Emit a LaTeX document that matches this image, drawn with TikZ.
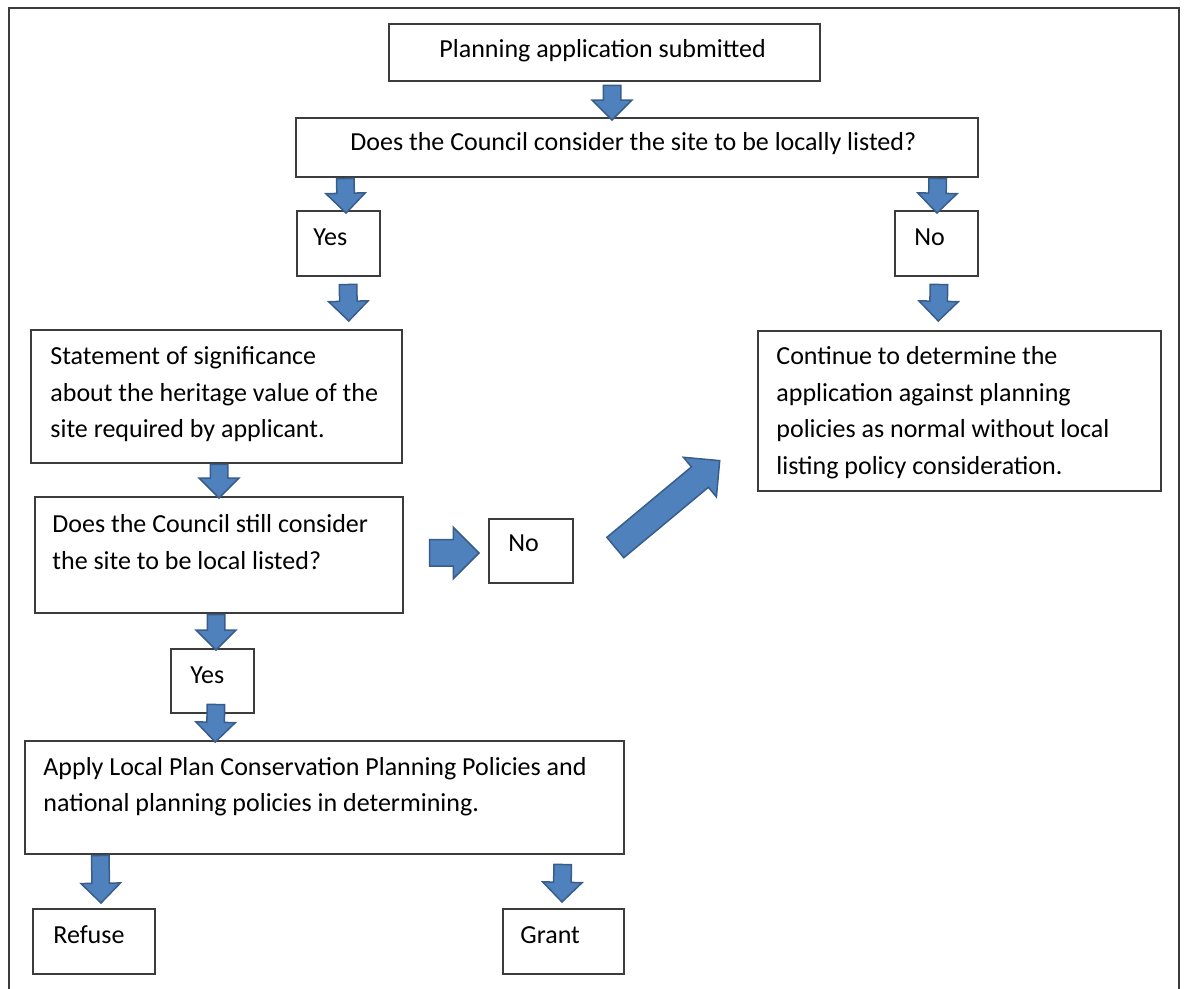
\documentclass[tikz,border=0pt]{standalone}
\usepackage{fontspec}
\setmainfont{Carlito}
\usetikzlibrary{positioning,calc,fit,shapes.arrows}
\definecolor{arrowblue}{RGB}{79,129,189}
\definecolor{arrowedge}{RGB}{56,93,138}
\definecolor{boxedge}{RGB}{60,60,60}
\tikzset{
		box/.style = 		{draw=boxedge, line width=0.75pt, inner sep=0pt},
		txt/.style = 		{anchor=base west, inner sep=0pt, font=\fontsize{13}{18.25}\selectfont},
		blockArrow/.style = {single arrow, draw=arrowedge, fill=arrowblue, line width=0.75pt,
		                     inner xsep=0pt, inner ysep=4pt, single arrow head extend=5.5pt},
		bigArrow/.style = 	{blockArrow, inner ysep=6.25pt, single arrow head extend=6.25pt},
		fat/.style = 		{to path={let \p1=(\tikztostart), \p2=(\tikztotarget),
		                     \n1={atan2(\y2-\y1,\x2-\x1)}, \n2={veclen(\x2-\x1,\y2-\y1)} in
		                     node[#1, minimum height=\n2, rotate=\n1, anchor=tail] at (\tikztostart) {}}},
		fat/.default = blockArrow
}

\begin{document}
\begin{tikzpicture}[x=0.5pt, y=-0.5pt]
  \useasboundingbox (0,0) rectangle (1184,989);
  \draw[boxedge, line width=1pt] (9,995) -- (9,8) -- (1179,8) -- (1179,995);

  % boxes
  \node [box, fit={(389,24) (820,81)}]   (plan) {};
  \node [box, fit={(296,118) (978,177)}] (council) {};
  \node [box, fit={(297,211) (380,276)}] (yesA) {};
  \node [box, fit={(895,211) (978,276)}] (noA) {};
  \node [box, fit={(31,330) (402,463)}]  (stmt) {};
  \node [box, fit={(758,331) (1161,491)}] (cont) {};
  \node [box, fit={(35,497) (403,613)}]  (still) {};
  \node [box, fit={(489,519) (573,583)}] (noB) {};
  \node [box, fit={(171,649) (254,713)}] (yesB) {};
  \node [box, fit={(25,741) (624,854)}]  (apply) {};
  \node [box, fit={(33,909) (155,974)}]  (refuse) {};
  \node [box, fit={(503,909) (624,974)}] (grant) {};

  % texts
  \node [txt] (plan-t)    at (439,58)  {Planning application submitted};
  \node [txt] (council-t) at (350,151) {Does the Council consider the site to be locally listed?};
  \node [txt] (yesA-t)    at (313,246) {Yes};
  \node [txt] (noA-t)     at (914,246) {No};
  \node [txt] (stmt-t)    at (50,365)  {\parbox[t]{300pt}{Statement of significance\\
                                        about the heritage value of the\\
                                        site required by applicant.}};
  \node [txt] (cont-t)    at (776,365) {\parbox[t]{300pt}{Continue to determine the\\
                                        application against planning\\
                                        policies as normal without local\\
                                        listing policy consideration.}};
  \node [txt] (still-t)   at (52,533)  {\parbox[t]{300pt}{Does the Council still consider\\
                                        the site to be local listed?}};
  \node [txt] (noB-t)     at (508,552) {No};
  \node [txt] (yesB-t)    at (190,683) {Yes};
  \node [txt] (apply-t)   at (43,775)  {\parbox[t]{400pt}{Apply Local Plan Conservation Planning Policies and\\
                                        national planning policies in determining.}};
  \node [txt] (refuse-t)  at (53,943)  {Refuse};
  \node [txt] (grant-t)   at (520,943) {Grant};

  % block arrows
  \path ($(plan.south)+(7.5,3)$)          to[fat] ($(council.north)+(-25,2)$);
  \path ($(council.south west)+(50,0)$)   to[fat] ($(yesA.north)+(7.5,2)$);
  \path ($(council.south east)+(-41,0)$)  to[fat] ($(noA.north)+(0.5,2)$);
  \path ($(yesA.south)+(9.5,7)$)          to[fat] ($(stmt.north east)+(-54,-9)$);
  \path ($(noA.south)+(2.5,7)$)           to[fat] ($(cont.north west)+(181,-10)$);
  \path ($(stmt.south)+(2.5,0)$)          to[fat] ($(still.north)+(0,1)$);
  \path ($(still.south)+(-3,0)$)          to[fat] ($(yesB.north)+(3.5,1)$);
  \path ($(yesB.south)+(3.5,-10)$)        to[fat] ($(apply.north west)+(191,1)$);
  \path ($(apply.south west)+(76,0)$)     to[fat] ($(refuse.north)+(7,-6)$);
  \path ($(apply.south east)+(-62,9)$)    to[fat] ($(grant.north)+(-1.5,-7)$);
  \path ($(still.east)+(25,-2)$)          to[fat=bigArrow] ($(noB.west)+(-10,2)$);
  \path ($(noB.east)+(41,-3)$)            to[fat=bigArrow] ($(cont.west)+(-38,50)$);
\end{tikzpicture}
\end{document}
